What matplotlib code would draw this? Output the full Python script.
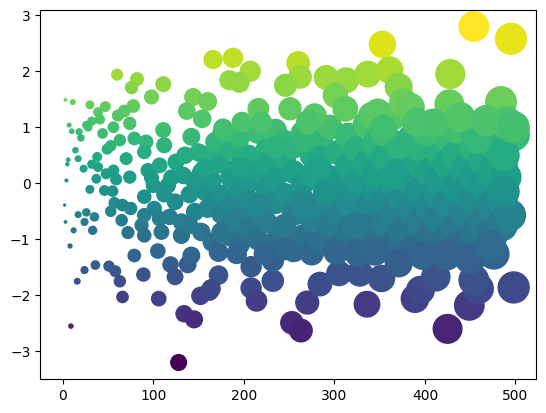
import numpy as np
import matplotlib.pyplot as plt

# points, grouped by region: (x, y)
left_pts = [
    (3, 1.49), (11, 1.45), (30, 1.40), (47, 1.37), (39, 1.27), (41, 1.14), (32, 1.11),
    (26, 1.04), (7, 1.04), (56, 1.0), (0, 0.16), (4, 0.05), (6, 0.42), (5, 0.34),
    (14, 0.59), (17, 0.44), (23, 0.26), (32, 0.34), (39, 0.29), (38, 0.47), (49, 0.61),
    (53, 0.67), (44, 0.89), (20, 0.81), (10, 0.93), (18, 0.92), (28, 1.0), (37, 0.08),
    (48, 0.17), (56, 0.23), (59, 0.07), (30, -0.11), (46, -0.13), (55, -0.14), (2, -0.39),
    (3, -0.69), (12, -0.84), (8, -1.12), (17, -0.56), (26, -0.52), (24, -0.69), (35, -0.6),
    (33, -0.84), (53, -0.5), (57, -0.35), (16, -1.75), (24, -1.55), (36, -1.46),
    (51, -1.48), (58, -1.57), (9, -2.55),
]

mid_pts = [
    (63, 0.77), (70, 0.44), (79, 0.80), (92, 0.74), (74, 0.11), (94, 0.23), (112, 0.68),
    (90, 0.56), (107, 0.32), (125, 0.38), (133, 0.14), (153, 0.2), (116, -0.04),
    (124, -0.33), (101, -0.45), (90, -0.57), (107, -0.63), (87, -0.75), (109, -0.87),
    (131, -0.69), (146, -0.51), (153, -0.87), (131, -0.93), (90, -0.93), (157, -0.15),
    (90, -0.24), (100, -0.04), (66, -0.39), (75, -0.45), (65, -0.66), (72, -0.88),
    (140, -0.2), (120, 0.1), (145, 0.05), (140, -0.75), (118, -0.6), (150, 0.55),
    (160, -0.45), (135, 0.5), (98, 0.1), (112, -0.2),
]

center_pts = [
    (165, 0.55), (165, 0.05), (165, -0.35), (165, -1.05),
    (175, 0.35), (175, -0.2), (175, -0.55), (175, 0.85),
    (185, 0.6), (185, 0.1), (185, -0.95), (185, -0.4),
    (195, 0.8), (195, 0.3), (195, -0.1), (195, -0.6), (195, -1.1),
    (205, 0.5), (205, 0.0), (205, -0.8), (205, -0.3),
    (215, 0.9), (215, 0.2), (215, -0.5), (215, -1.0),
    (225, 0.6), (225, -0.1), (225, -0.7), (225, 0.35),
    (235, 0.95), (235, 0.1), (235, -0.35), (235, -1.05),
    (245, 0.45), (245, -0.2), (245, -0.9), (245, 0.75),
    (255, 0.2), (255, -0.55), (255, -1.2), (255, 0.65),
    (265, 0.9), (265, 0.0), (265, -0.3), (265, -0.95),
    (275, 0.5), (275, -0.65), (275, 0.15), (275, -1.25),
    (285, 0.75), (285, -0.4), (285, -1.05), (285, 0.45),
    (295, 1.0), (295, 0.1), (295, -0.75), (295, -0.25),
    (305, 0.55), (305, -0.05), (305, -0.55), (305, -1.15),
    (315, 0.85), (315, 0.3), (315, -0.9), (315, -0.35),
    (325, 0.6), (325, -0.15), (325, -1.2), (325, 0.05),
    (335, 1.05), (335, 0.35), (335, -0.45), (335, -0.8),
    (345, 0.7), (345, -0.1), (345, -1.0), (345, 0.15),
    (355, 0.45), (355, -0.35), (355, -0.7), (355, 0.9),
    (365, 1.2), (365, 0.0), (365, -0.55), (365, -1.1),
    (375, 0.55), (375, -0.25), (375, -0.85), (375, 0.25),
    (385, 0.8), (385, 0.05), (385, -0.45), (385, -1.2),
    (395, 0.35), (395, -0.7), (395, -0.15), (395, 0.65),
    (405, 1.0), (405, 0.2), (405, -0.95), (405, -0.4),
    (415, 0.6), (415, -0.2), (415, -0.65), (415, 0.05),
    (425, 0.85), (425, 0.35), (425, -1.0), (425, -0.35),
    (435, 0.5), (435, -0.05), (435, -0.8), (435, -1.15),
    (445, 1.05), (445, 0.25), (445, -0.5), (445, -0.15),
    (455, 0.65), (455, -0.3), (455, -0.9), (455, 0.1),
    (465, 0.4), (465, -0.05), (465, -0.7), (465, 1.0),
    (475, 0.75), (475, 0.2), (475, -0.4), (475, -0.9),
    (485, 0.55), (485, -0.25), (485, -0.75), (485, 0.3),
    (157, 0.27), (168, 0.74), (179, 0.92), (234, 0.65), (267, 0.77), (201, 0.26),
    (282, 0.26), (290, -0.16), (267, -0.45), (186, -0.69), (175, -0.87), (216, -0.39),
    (245, -0.75), (323, -0.75), (498, 0.86), (489, 0.11), (494, -0.57), (487, 0.5),
    (487, -0.15), (372, 0.68), (365, 0.14), (435, 0.98), (457, 0.8), (402, 0.92),
]

upper_pts = [
    (60, 1.94), (82, 1.86), (76, 1.71), (111, 1.77), (98, 1.54), (78, 1.38), (68, 1.29),
    (61, 1.21), (74, 1.07), (144, 1.54), (137, 1.29), (154, 1.15), (166, 2.21),
    (188, 2.24), (207, 2.0), (184, 1.84), (195, 1.8), (260, 2.15), (262, 1.9), (246, 1.75),
    (291, 1.89), (313, 1.84), (337, 1.95), (353, 2.48), (301, 1.57), (160, 1.46),
    (216, 1.33), (251, 1.33), (312, 1.33), (219, 1.09), (198, 1.09), (177, 0.98),
    (278, 1.21), (271, 1.09), (341, 1.21), (454, 2.80), (495, 2.58), (428, 1.95),
    (361, 2.02), (371, 1.72), (484, 1.45), (427, 1.41), (376, 1.45), (384, 1.36),
    (348, 1.27), (439, 1.18), (354, 0.98), (468, 1.12), (490, 1.09), (391, 1.09),
    (409, 1.07), (498, 1.0), (111, 0.95), (142, 0.83),
]

lower_pts = [
    (79, -1.29), (89, -1.63), (105, -1.21), (119, -1.45), (124, -1.67), (106, -2.06),
    (138, -1.45), (142, -1.29), (152, -2.01), (162, -1.93), (134, -2.33), (145, -2.43),
    (128, -3.20), (66, -2.03), (63, -1.75), (172, -1.64), (164, -1.88), (208, -1.87),
    (214, -2.1), (232, -1.74), (208, -1.49), (232, -1.38), (192, -1.26), (172, -1.23),
    (245, -1.17), (253, -2.49), (263, -2.63), (270, -2.13), (284, -1.80), (305, -1.61),
    (328, -1.61), (336, -2.16), (352, -1.70), (389, -2.06), (395, -1.91), (412, -1.67),
    (425, -2.6), (449, -2.18), (459, -1.88), (454, -1.73), (498, -1.86), (371, -1.43),
    (345, -1.23), (476, -1.26), (424, -1.29), (450, -1.35), (398, -1.29), (302, -1.23),
    (326, -1.26), (341, -1.2), (223, -1.26), (472, -1.11),
]

pts = np.array(left_pts + mid_pts + center_pts + upper_pts + lower_pts, dtype=float)
x = pts[:, 0]
y = pts[:, 1]

fig, ax = plt.subplots(figsize=(6.4, 4.8), dpi=100)
# marker area follows x, colour follows y
ax.scatter(x, y, s=x, c=y, cmap='viridis')
fig.savefig("out.png", dpi=100, bbox_inches='tight')
